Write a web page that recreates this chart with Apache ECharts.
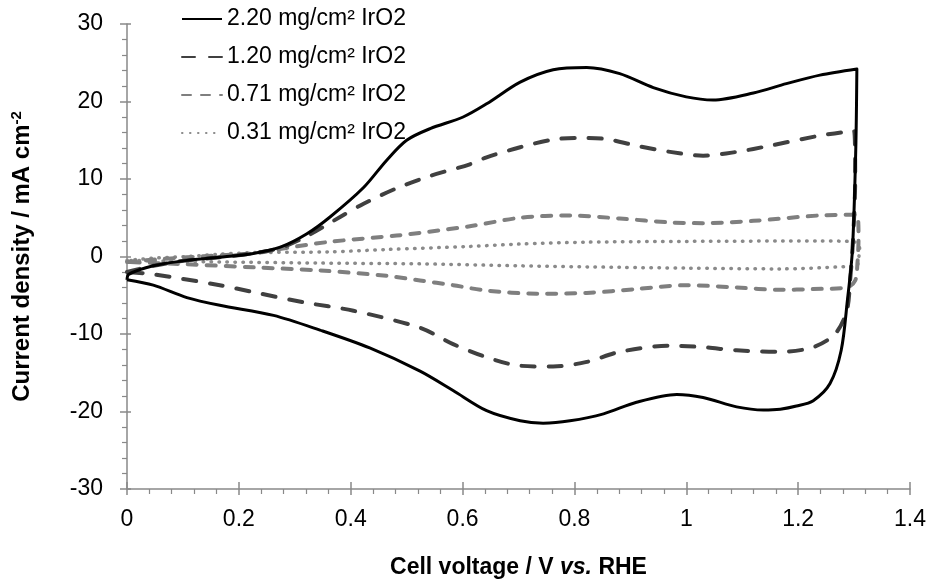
<!DOCTYPE html>
<html><head><meta charset="utf-8">
<script src="https://cdn.jsdelivr.net/npm/echarts@6/dist/echarts.min.js"></script>
<style>html,body{margin:0;padding:0;background:#fff}#c{width:938px;height:584px}</style>
</head><body><div id="c"></div>
<script>
const seriesNames = ['2.20 mg/cm² IrO2', '1.20 mg/cm² IrO2', '0.71 mg/cm² IrO2', '0.31 mg/cm² IrO2'];
const xTicks = [0, 0.2, 0.4, 0.6, 0.8, 1, 1.2, 1.4];
const yTicks = [-30, -20, -10, 0, 10, 20, 30];

// 2.20 mg/cm2 : anodic sweep then cathodic sweep
const v220 = [0.000, 0.003, 0.047, 0.107, 0.166, 0.226, 0.274, 0.321, 0.363, 0.423, 0.464, 0.500, 0.542, 0.601, 0.643, 0.703, 0.762, 0.822, 0.881, 0.941, 1.000, 1.048, 1.120, 1.179, 1.239, 1.305,
              1.303, 1.297, 1.288, 1.277, 1.257, 1.227, 1.197, 1.168, 1.138, 1.090, 1.030, 0.983, 0.911, 0.852, 0.792, 0.744, 0.703, 0.643, 0.583, 0.524, 0.434, 0.345, 0.262, 0.166, 0.107, 0.047, 0.000];
const j220 = [-3.0, -2.3, -1.2, -0.5, -0.1, 0.4, 1.2, 2.9, 5.1, 8.9, 12.4, 15.0, 16.5, 18.0, 19.7, 22.5, 24.1, 24.4, 23.6, 21.8, 20.6, 20.2, 21.1, 22.3, 23.4, 24.2,
              13.7, 0.8, -5.7, -12.1, -16.4, -18.6, -19.3, -19.7, -19.8, -19.4, -18.2, -17.8, -18.8, -20.3, -21.2, -21.5, -21.2, -19.9, -17.3, -14.8, -11.8, -9.5, -7.6, -6.3, -5.3, -3.7, -3.0];

// 1.20 mg/cm2
const v120 = [0.000, 0.047, 0.107, 0.166, 0.226, 0.274, 0.321, 0.381, 0.423, 0.482, 0.542, 0.613, 0.643, 0.703, 0.762, 0.804, 0.852, 0.911, 0.971, 1.030, 1.090, 1.150, 1.239, 1.300,
              1.302, 1.298, 1.293, 1.287, 1.266, 1.227, 1.168, 1.090, 1.030, 0.971, 0.881, 0.822, 0.762, 0.703, 0.643, 0.583, 0.524, 0.405, 0.315, 0.226, 0.166, 0.047, 0.000];
const j120 = [-2.0, -1.2, -0.5, -0.1, 0.4, 1.1, 2.6, 5.1, 6.8, 8.8, 10.4, 11.9, 12.8, 14.1, 15.1, 15.3, 15.2, 14.3, 13.5, 13.0, 13.5, 14.3, 15.6, 16.2,
              10.0, 2.0, -3.0, -7.0, -10.0, -11.7, -12.3, -12.1, -11.7, -11.5, -12.3, -13.6, -14.2, -14.1, -13.0, -11.3, -9.2, -7.0, -5.9, -4.6, -3.7, -2.3, -2.0];

// 0.71 mg/cm2
const v071 = [0.000, 0.050, 0.107, 0.166, 0.226, 0.285, 0.363, 0.482, 0.540, 0.613, 0.703, 0.792, 0.881, 0.971, 1.030, 1.120, 1.239, 1.305,
              1.308, 1.306, 1.302, 1.287, 1.227, 1.168, 1.090, 1.000, 0.911, 0.822, 0.733, 0.643, 0.583, 0.524, 0.464, 0.345, 0.226, 0.107, 0.000];
const j071 = [-0.7, -0.4, -0.1, 0.15, 0.4, 1.1, 1.9, 2.7, 3.2, 3.9, 5.0, 5.3, 4.9, 4.4, 4.3, 4.6, 5.3, 5.4,
              2.5, -0.9, -3.1, -4.0, -4.2, -4.3, -4.0, -3.7, -4.2, -4.7, -4.8, -4.4, -3.7, -3.1, -2.5, -1.8, -1.4, -1.0, -0.7];

// 0.31 mg/cm2
const v031 = [0.000, 0.050, 0.107, 0.166, 0.226, 0.363, 0.464, 0.613, 0.700, 0.822, 1.000, 1.239, 1.300,
              1.310, 1.308, 1.305, 1.287, 1.168, 1.000, 0.881, 0.700, 0.524, 0.345, 0.166, 0.000];
const j031 = [-0.5, -0.2, 0.0, 0.3, 0.5, 0.6, 0.9, 1.3, 1.6, 1.85, 1.95, 2.0, 1.9,
              1.0, -0.3, -1.2, -1.3, -1.6, -1.5, -1.4, -1.2, -0.95, -0.85, -0.7, -0.5];

const zip = (xs, ys) => xs.map((x, i) => [x, ys[i]]);
const FONT = 'Liberation Sans, Arial, sans-serif';
const AXC = '#898989';

const styles = [
  { color: '#000000', width: 3, type: 'solid', cap: 'butt' },
  { color: '#404040', width: 4, type: [13, 14], cap: 'round' },
  { color: '#7f7f7f', width: 4, type: [9, 10], cap: 'round' },
  { color: '#8a8a8a', width: 3.5, type: [0.5, 7.5], cap: 'round' }
];
const datasets = [zip(v220, j220), zip(v120, j120), zip(v071, j071), zip(v031, j031)];

const xBase = { type: 'value', min: xTicks[0], max: xTicks[xTicks.length - 1], interval: 0.2 };
const yBase = { type: 'value', min: yTicks[0], max: yTicks[yTicks.length - 1], interval: 10 };

const chart = echarts.init(document.getElementById('c'), null, { renderer: 'canvas' });
chart.setOption({
  animation: false,
  backgroundColor: '#ffffff',
  textStyle: { fontFamily: FONT },
  grid: { left: 127, right: 28, top: 24, bottom: 95 },
  legend: {
    data: seriesNames,
    orient: 'vertical',
    left: 176, top: 1,
    itemWidth: 40, itemHeight: 14, itemGap: 12,
    itemStyle: { opacity: 0 },
    textStyle: { fontSize: 23, color: '#000', fontFamily: FONT, lineHeight: 26 }
  },
  xAxis: [
    Object.assign({}, xBase, {
      position: 'bottom',
      name: '{a|Cell voltage / V }{b|vs.}{a| RHE}',
      nameLocation: 'middle', nameGap: 67,
      nameTextStyle: { rich: {
        a: { fontSize: 23, fontWeight: 'bold', fontFamily: FONT, color: '#000' },
        b: { fontSize: 23, fontWeight: 'bold', fontStyle: 'italic', fontFamily: FONT, color: '#000' } } },
      axisLine: { show: true, onZero: false, lineStyle: { color: AXC, width: 1.5 } },
      axisTick: { show: true, inside: false, length: 6, lineStyle: { color: AXC, width: 1.5 } },
      minorTick: { show: true, splitNumber: 5, length: 5, lineStyle: { color: AXC, width: 1.2 } },
      axisLabel: { fontSize: 23, color: '#000', margin: 19, fontFamily: FONT },
      splitLine: { show: false }
    }),
    Object.assign({}, xBase, {
      position: 'bottom',
      axisLine: { show: false, onZero: false },
      axisTick: { show: true, inside: true, length: 7, lineStyle: { color: AXC, width: 1.5 } },
      axisLabel: { show: false },
      splitLine: { show: false }
    })
  ],
  yAxis: [
    Object.assign({}, yBase, {
      position: 'left',
      name: '{a|Current density / mA cm}{s|-2}',
      nameLocation: 'middle', nameGap: 92, nameRotate: 90,
      nameTextStyle: { rich: {
        a: { fontSize: 24, fontWeight: 'bold', fontFamily: FONT, color: '#000', lineHeight: 26 },
        s: { fontSize: 15, fontWeight: 'bold', fontFamily: FONT, color: '#000', verticalAlign: 'top', lineHeight: 26, padding: [0, 0, 10, 0] } } },
      axisLine: { show: true, onZero: false, lineStyle: { color: AXC, width: 1.5 } },
      axisTick: { show: true, inside: false, length: 7, lineStyle: { color: AXC, width: 1.5 } },
      minorTick: { show: true, splitNumber: 5, length: 5, lineStyle: { color: AXC, width: 1.2 } },
      axisLabel: { fontSize: 23, color: '#000', margin: 24, fontFamily: FONT },
      splitLine: { show: false }
    }),
    Object.assign({}, yBase, {
      position: 'left',
      axisLine: { show: false, onZero: false },
      axisTick: { show: true, inside: true, length: 4, lineStyle: { color: AXC, width: 1.5 } },
      axisLabel: { show: false },
      splitLine: { show: false }
    })
  ],
  series: seriesNames.map((name, i) => ({
    name: name,
    type: 'line',
    xAxisIndex: 0, yAxisIndex: 0,
    data: datasets[i],
    symbol: 'none',
    smooth: 0.3,
    color: styles[i].color,
    lineStyle: { color: styles[i].color, width: styles[i].width, type: styles[i].type, cap: styles[i].cap, join: 'round' },
    z: 10 - i
  }))
});
</script></body></html>
